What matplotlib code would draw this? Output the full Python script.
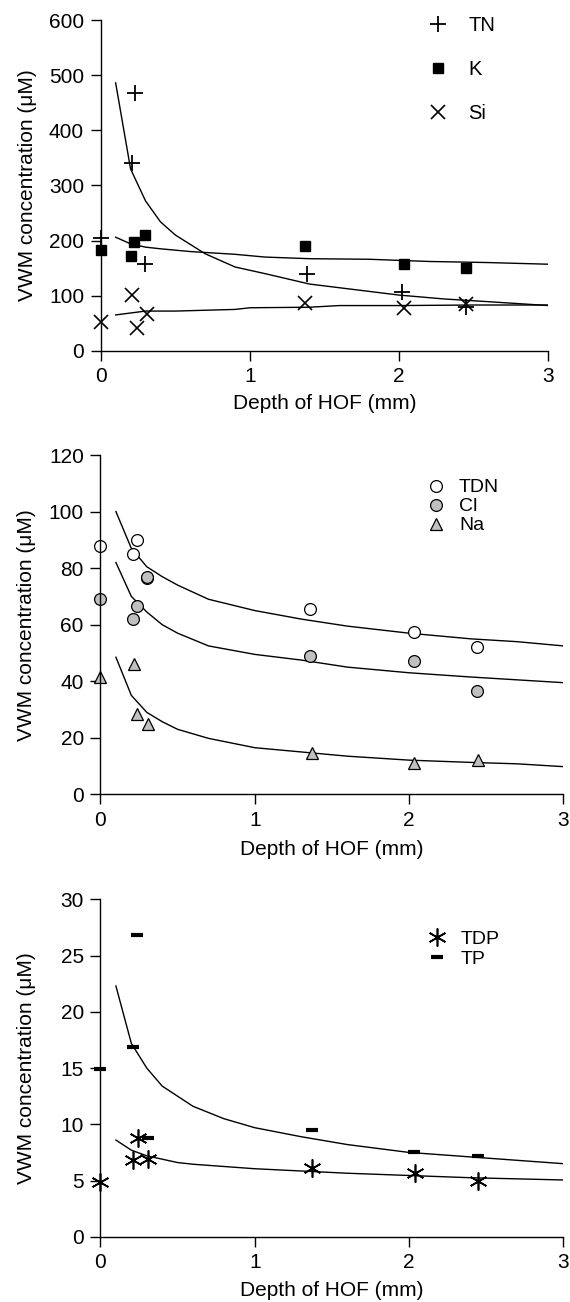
import matplotlib
matplotlib.use("Agg")
import matplotlib.pyplot as plt
from matplotlib.lines import Line2D

plt.rcParams['font.family'] = ['Liberation Sans', 'DejaVu Sans']

# ---- panel 1: TN, K, Si ----
tn_x = [0, 0.23, 0.21, 0.30, 1.38, 2.02, 2.45]
tn_y = [205, 468, 341, 158, 139, 107, 80]
k_x = [0, 0.225, 0.20, 0.297, 1.37, 2.03, 2.45]
k_y = [182, 197, 172, 210, 190, 158, 151]
si_x = [0, 0.21, 0.24, 0.31, 1.37, 2.03, 2.45]
si_y = [53, 101, 42, 66, 87, 78, 84]

tn_fit_x = [0.1, 0.2, 0.3, 0.4, 0.5, 0.7, 0.9, 1.1, 1.4, 1.7, 2.0, 2.3, 2.6, 3.0]
tn_fit_y = [486, 330, 272, 234, 210, 176, 152, 140, 121, 111, 101, 94, 89, 82]
k_fit_x = [0.1, 0.2, 0.3, 0.4, 0.6, 0.9, 1.1, 1.4, 1.8, 2.2, 2.6, 3.0]
k_fit_y = [206, 194, 188, 185, 180, 175, 170, 167, 166, 162, 160, 157]
si_fit_x = [0.1, 0.3, 0.5, 0.9, 1.0, 1.4, 1.6, 2.0, 2.5, 3.0]
si_fit_y = [65, 72, 72, 75, 78, 79, 82, 82, 83, 83]

# ---- panel 2: TDN, Cl, Na ----
tdn_x = [0, 0.21, 0.235, 0.30, 1.36, 2.03, 2.44]
tdn_y = [88, 85, 90, 76.5, 65.5, 57.5, 52]
cl_x = [0, 0.21, 0.235, 0.30, 1.36, 2.03, 2.44]
cl_y = [69, 62, 66.7, 77, 49, 47, 36.7]
na_x = [0, 0.217, 0.235, 0.306, 1.37, 2.03, 2.45]
na_y = [41.6, 46, 28.3, 24.8, 14.7, 11, 12.1]

fit2_x = [0.1, 0.2, 0.3, 0.4, 0.5, 0.7, 1.0, 1.3, 1.6, 2.0, 2.4, 2.7, 3.0]
tdn_fit_y = [100, 87, 80.5, 77, 74, 69, 65, 62, 59.5, 57, 55, 54, 52.5]
cl_fit_y = [82, 70, 64.5, 60, 57, 52.5, 49.5, 47.5, 45, 43, 41.5, 40.5, 39.5]
na_fit_y = [48.5, 35, 29, 25.7, 23, 19.8, 16.5, 15, 13.5, 12.1, 11.3, 10.8, 9.8]

# ---- panel 3: TDP, TP ----
tdp_x = [0, 0.21, 0.24, 0.31, 1.37, 2.04, 2.45]
tdp_y = [4.9, 6.8, 8.8, 6.95, 6.1, 5.7, 4.95]
tp_x = [0, 0.236, 0.212, 0.31, 1.37, 2.03, 2.45]
tp_y = [14.9, 26.8, 16.9, 8.75, 9.5, 7.5, 7.15]

fit3_x = [0.1, 0.2, 0.3, 0.4, 0.5, 0.6, 0.8, 1.0, 1.3, 1.6, 2.0, 2.4, 2.7, 3.0]
tp_fit_y = [22.3, 17.2, 15, 13.4, 12.5, 11.6, 10.5, 9.7, 8.9, 8.2, 7.5, 7.1, 6.8, 6.5]
tdp_fit_y = [8.6, 7.7, 7.2, 6.9, 6.6, 6.45, 6.25, 6.05, 5.85, 5.65, 5.45, 5.25, 5.15, 5.05]

GRAY = '#c0c0c0'
FS = 15
LEG_FS = 14
asterisk = (6, 2, 0)

fig = plt.figure(figsize=(5.7, 13.02), dpi=100)
ax1 = fig.add_axes([0.1767, 0.7306, 0.7853, 0.2540])
ax2 = fig.add_axes([0.1763, 0.3899, 0.8119, 0.2606])
ax3 = fig.add_axes([0.1763, 0.0501, 0.8119, 0.2591])


def style(ax, ymax, ystep, ylab_x, xlab_y):
    ax.set_xlim(0, 3)
    ax.set_ylim(0, ymax)
    ax.set_xticks([0, 1, 2, 3])
    ax.set_yticks(range(0, ymax + 1, ystep))
    for s in ['top', 'right']:
        ax.spines[s].set_visible(False)
    for s in ['left', 'bottom']:
        ax.spines[s].set_linewidth(1.0)
    ax.tick_params(direction='out', length=7, width=1.0, labelsize=FS, pad=5)
    ax.set_xlabel("Depth of HOF (mm)", fontsize=FS)
    ax.set_ylabel("VWM concentration (μM)", fontsize=FS)
    ax.yaxis.set_label_coords(ylab_x, 0.5)
    ax.xaxis.set_label_coords(0.5, xlab_y)


# panel 1
ax1.plot(tn_fit_x, tn_fit_y, color='black', lw=1.0)
ax1.plot(k_fit_x, k_fit_y, color='black', lw=1.0)
ax1.plot(si_fit_x, si_fit_y, color='black', lw=1.0)
ax1.plot(tn_x, tn_y, ls='none', marker='+', ms=11, mew=1.3, color='black', clip_on=False)
ax1.plot(k_x, k_y, ls='none', marker='s', ms=7, color='black', clip_on=False)
ax1.plot(si_x, si_y, ls='none', marker='x', ms=10, mew=1.2, color='black', clip_on=False)
style(ax1, 600, 100, -0.1434, -0.132)
h1 = [Line2D([], [], ls='none', marker='+', ms=11, mew=1.3, color='black'),
      Line2D([], [], ls='none', marker='s', ms=7, color='black'),
      Line2D([], [], ls='none', marker='x', ms=10, mew=1.2, color='black')]
ax1.legend(h1, ['TN', 'K', 'Si'], loc='upper left', bbox_to_anchor=(0.731, 1.012),
           frameon=False, fontsize=14.5, handlelength=1.0, handletextpad=1.0,
           labelspacing=1.25, borderpad=0, borderaxespad=0)

# panel 2
for fy in [tdn_fit_y, cl_fit_y, na_fit_y]:
    ax2.plot(fit2_x, fy, color='black', lw=1.0)
ax2.plot(tdn_x, tdn_y, ls='none', marker='o', ms=8.5, mfc='white', mec='black', mew=0.9, clip_on=False)
ax2.plot(cl_x, cl_y, ls='none', marker='o', ms=8.5, mfc=GRAY, mec='black', mew=0.9, clip_on=False)
ax2.plot(na_x, na_y, ls='none', marker='^', ms=8, mfc=GRAY, mec='black', mew=0.9, clip_on=False)
style(ax2, 120, 20, -0.1394, -0.135)
h2 = [Line2D([], [], ls='none', marker='o', ms=8.5, mfc='white', mec='black', mew=0.9),
      Line2D([], [], ls='none', marker='o', ms=8.5, mfc=GRAY, mec='black', mew=0.9),
      Line2D([], [], ls='none', marker='^', ms=8, mfc=GRAY, mec='black', mew=0.9)]
ax2.legend(h2, ['TDN', 'Cl', 'Na'], loc='upper left', bbox_to_anchor=(0.703, 0.930),
           frameon=False, fontsize=LEG_FS, handlelength=1.0, handletextpad=0.7,
           labelspacing=0.07, borderpad=0, borderaxespad=0)

# panel 3
ax3.plot(fit3_x, tp_fit_y, color='black', lw=1.0)
ax3.plot(fit3_x, tdp_fit_y, color='black', lw=1.0)
ax3.plot(tdp_x, tdp_y, ls='none', marker=asterisk, ms=13, mew=1.2, color='black', clip_on=False)
ax3.plot(tp_x, tp_y, ls='none', marker='_', ms=9, mew=3, color='black', clip_on=False)
style(ax3, 30, 5, -0.1394, -0.130)
h3 = [Line2D([], [], ls='none', marker=asterisk, ms=13, mew=1.2, color='black'),
      Line2D([], [], ls='none', marker='_', ms=9, mew=3, color='black')]
ax3.legend(h3, ['TDP', 'TP'], loc='upper left', bbox_to_anchor=(0.7066, 0.908),
           frameon=False, fontsize=LEG_FS, handlelength=1.0, handletextpad=0.68,
           labelspacing=0.12, borderpad=0, borderaxespad=0)

fig.savefig("out.png", dpi=100)
